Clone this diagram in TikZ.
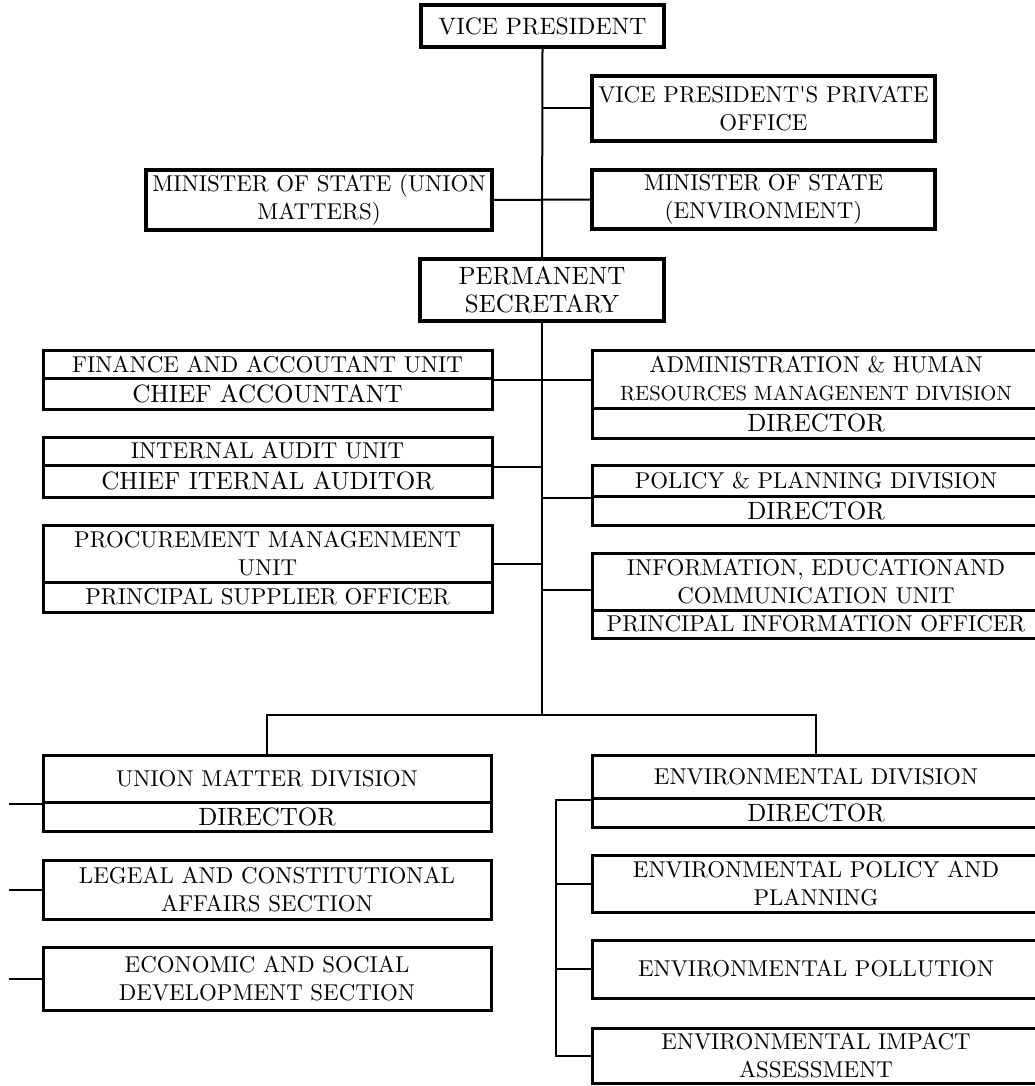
\documentclass[tikz,border=0pt]{standalone}
\usepackage{fontspec}
\setmainfont{lmroman10-regular.otf}
\usetikzlibrary{calc}
\newcommand\fm{\fontsize{22.9}{28}\selectfont}
\newcommand\fl{\fontsize{25}{28}\selectfont}
\newcommand\fvp{\fontsize{23.7}{28}\selectfont}
\newcommand\fsm{\fontsize{20.6}{28}\selectfont}
% \obox[style]{name}{x1}{y1}{x2}{y2}{text}
\newcommand\obox[7][]{%
  \node[orgbox,#1,minimum width={(#5-#3)*1pt},minimum height={(#6-#4)*1pt}]
    (#2) at ({(#3+#5)/2},{(#4+#6)/2}) {#7};}
\begin{document}
\begin{tikzpicture}[x=1pt,y=-1pt,
  orgbox/.style={draw,line width=3pt,inner sep=0pt,align=center,font=\fm},
  topbox/.style={line width=4pt},
  big/.style={font=\fl},
  conn/.style={line width=2pt}]
\useasboundingbox (0,0) rectangle (1035,1086);
\clip (0,0) rectangle (1035,1086);

% top level
\obox[topbox,font=\fvp]{vp}{421}{5}{664}{47}{VICE PRESIDENT}
\obox[topbox]{vppo}{592}{76}{935}{141}{VICE PRESIDENT\textquotesingle S PRIVATE\\OFFICE}
\obox[topbox]{msu}{146}{170}{492}{230}{MINISTER OF STATE (UNION\\MATTERS)}
\obox[topbox]{mse}{592}{170}{935}{229}{MINISTER OF STATE\\(ENVIRONMENT)}
\obox[topbox,big]{ps}{420}{259}{664}{321}{PERMANENT\\SECRETARY}

% left units
\obox{finT}{43}{350}{492}{378.5}{FINANCE AND ACCOUTANT UNIT}
\obox[big]{finR}{43}{378.5}{492}{409}{CHIEF ACCOUNTANT}
\obox{audT}{43}{437}{492}{465}{INTERNAL AUDIT UNIT}
\obox[big]{audR}{43}{465}{492}{497}{CHIEF ITERNAL AUDITOR}
\obox{proT}{43}{525}{492}{582}{PROCUREMENT MANAGENMENT\\UNIT}
\obox{proR}{43}{582}{492}{612}{PRINCIPAL SUPPLIER OFFICER}

% right units
\obox{admT}{592}{350}{1040}{408}{ADMINISTRATION \& HUMAN\\{\fsm RESOURCES MANAGENENT DIVISION}}
\obox[big]{admR}{592}{408}{1040}{438}{DIRECTOR}
\obox{polT}{592}{465}{1040}{496}{POLICY \& PLANNING DIVISION}
\obox[big]{polR}{592}{496}{1040}{525}{DIRECTOR}
\obox{infT}{592}{553}{1040}{610}{INFORMATION, EDUCATIONAND\\COMMUNICATION UNIT}
\obox{infR}{592}{610}{1040}{638}{PRINCIPAL INFORMATION OFFICER}

% divisions
\obox{uniT}{43}{755}{491}{802}{UNION MATTER DIVISION}
\obox[big]{uniR}{43}{802}{491}{831}{DIRECTOR}
\obox{leg}{43}{860}{491}{919}{LEGEAL AND CONSTITUTIONAL\\AFFAIRS SECTION}
\obox{eco}{43}{947}{491}{1010}{ECONOMIC AND SOCIAL\\DEVELOPMENT SECTION}

\obox{envT}{592}{755}{1040}{798}{ENVIRONMENTAL DIVISION}
\obox[big]{envR}{592}{798}{1040}{827}{DIRECTOR}
\obox{envPol}{592}{855}{1040}{912}{ENVIRONMENTAL POLICY AND\\PLANNING}
\obox{envPoll}{592}{940}{1040}{998}{ENVIRONMENTAL POLLUTION}
\obox{envImp}{592}{1028}{1040}{1083}{ENVIRONMENTAL IMPACT\\ASSESSMENT}

% helper coordinates
\coordinate (bar) at (543,715);
\coordinate (lx) at (9,0);
\coordinate (ex) at (556,0);

% connectors
\draw[conn] (vp.south) -- (ps.north);
\draw[conn] (ps.south) -- (ps.south |- bar);
\draw[conn] (vppo.west) -- (vppo.west -| vp.south);
\draw[conn] (msu.east) -- (mse.west);
\draw[conn] (finT.south east) -- (finT.south east -| admT.west);
\draw[conn] (audT.south east) -- (audT.south east -| ps.south);
\draw[conn] (polT.south west) -- (polT.south west -| ps.south);
\draw[conn] ([yshift=-10.5pt]proT.east) -- ([yshift=-10.5pt]proT.east -| ps.south);
\draw[conn] ([yshift=-8.5pt]infT.west) -- ([yshift=-8.5pt]infT.west -| ps.south);
\draw[conn] (uniT.north) -- (uniT.north |- bar) -- (envT.north |- bar) -- (envT.north);

\draw[conn] (uniT.south west) -- (uniT.south west -| lx);
\draw[conn] (leg.west) -- (leg.west -| lx);
\draw[conn] (eco.west) -- (eco.west -| lx);

\draw[conn] (envT.south west) -- (envT.south west -| ex) -- (envImp.west -| ex) -- (envImp.west);
\draw[conn] (envPol.west) -- (envPol.west -| ex);
\draw[conn] (envPoll.west) -- (envPoll.west -| ex);
\end{tikzpicture}
\end{document}
